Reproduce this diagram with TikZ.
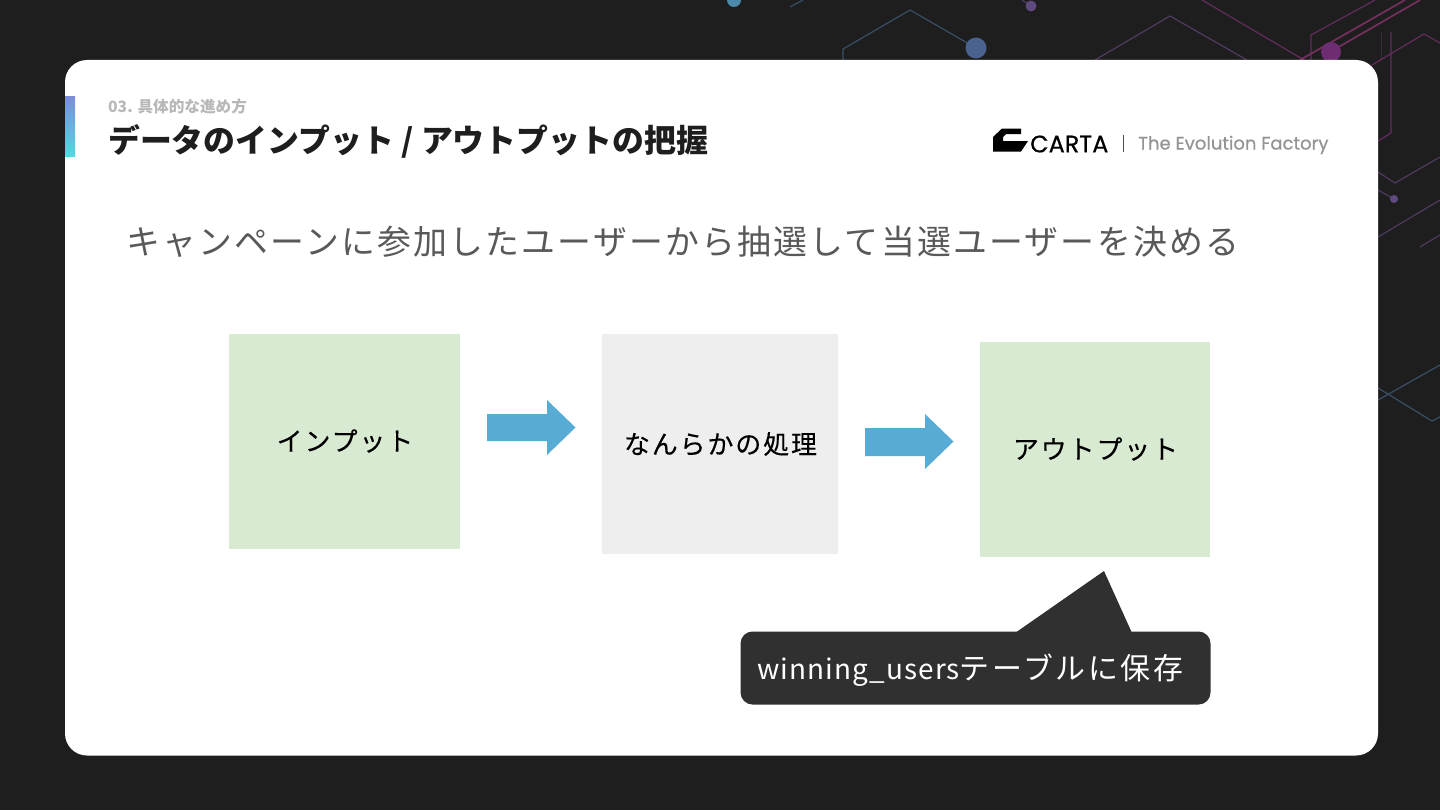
\documentclass[tikz,border=0pt]{standalone}
\usepackage{fontspec}
\setmainfont{Noto Sans CJK JP}
\newfontfamily\jpbox[LetterSpace=7.5,FakeBold=0.25]{Noto Sans CJK JP}
\newfontfamily\jphead[LetterSpace=6.6]{Noto Sans CJK JP}
\newfontfamily\jpcall[LetterSpace=9]{Noto Sans CJK JP}
\newfontfamily\lacall[LetterSpace=4]{Noto Sans CJK JP}
\newfontfamily\logofont[FakeBold=0.5]{Poppins}
\newfontfamily\logofontb[FakeBold=0.6]{Poppins}
\definecolor{bgdark}{HTML}{1E1E1E}
\definecolor{barA}{HTML}{7D8CDF}
\definecolor{barB}{HTML}{4FDADF}
\definecolor{boxgreen}{HTML}{D9EAD3}
\definecolor{boxgray}{HTML}{EEEEEE}
\definecolor{arrowblue}{HTML}{57ACD5}
\definecolor{calldark}{HTML}{303030}
\definecolor{lblue}{HTML}{3A4E66}
\definecolor{lpurple}{HTML}{4F3A60}
\definecolor{lpink}{HTML}{642C5E}
\definecolor{lpinkb}{HTML}{75305F}
\definecolor{dotblue}{HTML}{4A6290}
\definecolor{dotteal}{HTML}{4C89A8}
\definecolor{dotpurple}{HTML}{5F4A80}
\definecolor{dotpink}{HTML}{6E2C72}
\definecolor{linefaint}{HTML}{3A2A3E}
\tikzset{
  x=1bp,y=-1bp,
  bluel/.style={draw=lblue,line width=1.2bp},
  purl/.style={draw=lpurple,line width=1.2bp},
  pinkl/.style={draw=lpink,line width=1.2bp},
  pinkb/.style={draw=lpinkb,line width=1.7bp},
  blockarrow/.style={fill=arrowblue,draw=none},
  boxlabel/.style={inner sep=0pt,font=\jpbox\fontsize{26}{26}\selectfont,text=black},
}
\begin{document}
\begin{tikzpicture}
\useasboundingbox (0,0) rectangle (1440,810);
\fill[bgdark] (0,0) rectangle (1440,810);
% background circuit pattern
\draw[bluel] (843,60) -- (843,49) -- (910,10) -- (976,48);
\fill[dotblue] (976,48) circle (10.5);
\fill[dotteal] (734,0) circle (7);
\draw[bluel] (790,7) -- (803,0);
\draw[purl] (1022,0) -- (1031,6);
\fill[dotpurple] (1031,6) circle (5.5);
\draw[purl] (1095,60) -- (1170,16) -- (1247,60);
\draw[pinkl] (1202,0) -- (1304,60);
\draw[pinkl] (1311,60) -- (1311,35) -- (1375,0);
\draw[pinkb] (1300,60) -- (1405,0);
\draw[pinkb] (1330,52) -- (1420,0);
\fill[dotpink] (1331,52) circle (10);
\draw[draw=linefaint,line width=1bp] (1381,32) -- (1381,60);
\draw[pinkl] (1391,32) -- (1391,133) -- (1378,141);
\draw[pinkl] (1372,65) -- (1424,34) -- (1440,43);
\draw[purl] (1378,172) -- (1395,183) -- (1440,157);
\draw[purl] (1378,190) -- (1394,199);
\fill[dotpurple] (1394,199) circle (4);
\draw[purl] (1378,237) -- (1440,200);
\draw[purl] (1420,247) -- (1440,235);
\draw[bluel] (1378,400) -- (1440,365);
\draw[bluel] (1378,388) -- (1432,421) -- (1440,417);
% card
\fill[white,rounded corners=22bp] (65,60) rectangle (1378,755.5);
\shade[top color=barA,bottom color=barB] (65,96) rectangle (75,156);
% header
\node[anchor=west,inner sep=0pt,text=black!28] (sub) at (108,106.5) {\fontsize{15.7}{15.7}\selectfont\bfseries 03. 具体的な進め方};
\node[anchor=west,inner sep=0pt,text=bgdark] (title) at (108,141.5) {\fontsize{32}{32}\selectfont\bfseries データのインプット / アウトプットの把握};
% logo
\fill[black] (993,137) -- (1002,128.5) -- (1021,128.5) -- (1021,134) -- (1006,134) -- (1003,137) -- (1003,141) -- (1028,141) -- (1021,151.5) -- (993,151.5) -- cycle;
\node[anchor=west,inner sep=0pt,text=black] (carta) at (1030,144) {\logofont\fontsize{24}{24}\selectfont CARTA};
\fill[black!70] (1123,135) rectangle (1124,152);
\node[anchor=west,inner sep=0pt,text=black!42] (factory) at (1138,145) {\logofontb\fontsize{18.1}{18.1}\selectfont The Evolution Factory};
% heading
\node[anchor=west,inner sep=0pt,text=black!65] (head) at (126,242) {\jphead\fontsize{34}{34}\selectfont キャンペーンに参加したユーザーから抽選して当選ユーザーを決める};
% flow boxes
\node[fill=boxgreen,minimum width=231bp,minimum height=215bp,inner sep=0pt,outer sep=0pt] (input) at (344.5,441.5) {};
\node[fill=boxgray,minimum width=236.5bp,minimum height=220bp,inner sep=0pt,outer sep=0pt] (proc) at (720,444) {};
\node[fill=boxgreen,minimum width=230.5bp,minimum height=215bp,inner sep=0pt,outer sep=0pt] (output) at (1095,449.5) {};
\node[boxlabel] (inputt) at (345,441) {インプット};
\node[boxlabel] (proct) at (720.5,444) {なんらかの処理};
\node[boxlabel] (outputt) at (1095.5,449) {アウトプット};
% arrows
\fill[blockarrow] (487,414) -- (547,414) -- (547,400) -- (575.5,427.5) -- (547,455) -- (547,441) -- (487,441) -- cycle;
\fill[blockarrow] (865,428) -- (925,428) -- (925,414) -- (953.5,441.5) -- (925,469) -- (925,456) -- (865,456) -- cycle;
% callout
\fill[calldark,rounded corners=12bp] (740.5,631.5) rectangle (1210.5,704.5);
\fill[calldark] (1015,633) -- (1104,571) -- (1132,633) -- cycle;
\node[anchor=west,inner sep=0pt,text=white] (callt) at (757,670) {\lacall\fontsize{28}{28}\selectfont winning\_users\jpcall\fontsize{30}{30}\selectfont テーブルに保存};
\end{tikzpicture}
\end{document}
